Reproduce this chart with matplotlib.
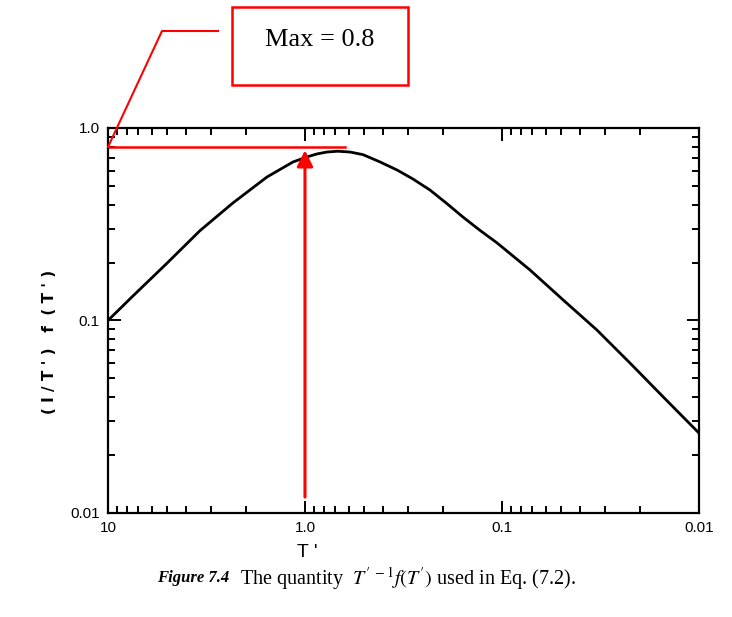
import matplotlib
matplotlib.use('Agg')
import matplotlib.pyplot as plt
from matplotlib.patches import Rectangle
from matplotlib.lines import Line2D

# curve
t_prime = [10, 7.47, 5.0, 3.41, 2.32, 1.56, 1.15, 0.977, 0.869, 0.773, 0.68,
           0.591, 0.508, 0.416, 0.341, 0.283, 0.232, 0.19, 0.158, 0.13, 0.106,
           0.0721, 0.049, 0.033, 0.0224, 0.0152, 0.01]
quantity = [0.1, 0.134, 0.199, 0.293, 0.408, 0.556, 0.666, 0.707, 0.733, 0.75, 0.757,
            0.75, 0.727, 0.666, 0.605, 0.543, 0.476, 0.404, 0.345, 0.295, 0.253,
            0.183, 0.128, 0.0893, 0.0601, 0.0401, 0.026]

x_ticks = [10, 1.0, 0.1, 0.01]
x_tick_labels = ['10', '1.0', '0.1', '0.01']
y_ticks = [0.01, 0.1, 1.0]
y_tick_labels = ['0.01', '0.1', '1.0']

max_value = 0.8
max_t = 1.0
line_end_t = 0.63

plt.rcParams['font.family'] = ['Liberation Sans', 'DejaVu Sans']
plt.rcParams['mathtext.fontset'] = 'stix'

fig = plt.figure(figsize=(7.32, 6.17), dpi=100)
ax = fig.add_axes([0.1475, 0.1686, 0.8074, 0.624])

ax.plot(t_prime, quantity, color='black', lw=2.0, solid_joinstyle='round')
ax.set_xscale('log')
ax.set_yscale('log')
ax.set_xlim(10, 0.01)
ax.set_ylim(0.01, 1.0)

ax.set_xticks(x_ticks)
ax.set_xticklabels(x_tick_labels)
ax.set_yticks(y_ticks)
ax.set_yticklabels(y_tick_labels)
ax.tick_params(which='both', direction='in', top=True, right=True, width=1.4,
               labelsize=11)
ax.tick_params(which='major', length=9, pad=6)
ax.tick_params(which='minor', length=5)
for s in ax.spines.values():
    s.set_linewidth(1.6)

# red annotation on the scan
ax.plot([10, line_end_t], [max_value, max_value], color='red', lw=1.8)
ax.annotate('', xy=(max_t, max_value * 0.99), xytext=(max_t, 0.0117),
            arrowprops=dict(arrowstyle='-|>', color='red', lw=2.2,
                            mutation_scale=24))

fig.text(0.068, 0.446, "( I / T ' )   f  ( T ' )", rotation=90, ha='center',
         va='center', fontsize=11, fontweight='bold', family='DejaVu Sans')
fig.text(0.42, 0.105, "T '", ha='center', va='center', fontsize=14)

fig.text(0.215, 0.063, 'Figure 7.4', family='Liberation Serif', style='italic',
         fontweight='bold', fontsize=12, ha='left', va='center')
fig.text(0.328, 0.063, "The quantity  $T'^{\\,-1}f(T')$ used in Eq. (7.2).",
         family='Liberation Serif', fontsize=14.5, ha='left', va='center')

# box with the maximum value and its leader line
box = Rectangle((232 / 732, 1 - 85 / 617), 176 / 732, 78 / 617,
                transform=fig.transFigure, fill=False, edgecolor='red', lw=1.8)
fig.add_artist(box)
fig.text(320 / 732, 1 - 40 / 617, 'Max = 0.8', family='Liberation Serif',
         fontsize=19, ha='center', va='center')
fig.add_artist(Line2D([108 / 732, 162 / 732, 218 / 732],
                      [1 - 147 / 617, 1 - 31 / 617, 1 - 31 / 617],
                      transform=fig.transFigure, color='red', lw=1.5))

fig.savefig('out.png', dpi=100)
